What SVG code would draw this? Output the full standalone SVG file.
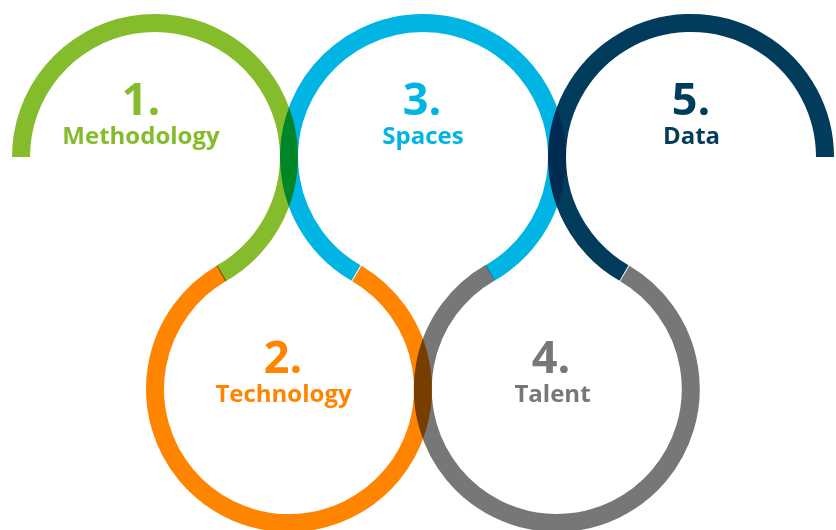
<svg xmlns="http://www.w3.org/2000/svg" width="836" height="530" viewBox="0 0 836 530">
  <style>
    .ring { fill: none; stroke-width: 18; mix-blend-mode: multiply; }
    .num { font-family: "Open Sans", "Liberation Sans", sans-serif; font-weight: 700; font-size: 45px; text-anchor: middle; }
    .lbl { font-family: "Open Sans", "Liberation Sans", sans-serif; font-weight: 700; font-size: 24px; text-anchor: middle; }
    .s-green { stroke: #85bc2c; }
    .s-orange { stroke: #ff8400; }
    .s-blue { stroke: #00b4e3; }
    .s-gray { stroke: #77777a; }
    .s-navy { stroke: #023c5c; }
    .f-green { fill: #85bc2c; }
    .f-orange { fill: #ff8400; }
    .f-blue { fill: #00b4e3; }
    .f-gray { fill: #77777a; }
    .f-navy { fill: #023c5c; }
  </style>
  <rect x="0" y="0" width="836" height="530" fill="#ffffff"/>
  <g id="connectors">
    <path class="ring s-green" d="M21,157 A134,134 0 1 1 220.8,273.7"/>
    <path class="ring s-orange" d="M356.8,273.5 A134,134 0 1 1 222,273.05"/>
    <path class="ring s-blue" d="M356,273.05 A134,134 0 1 1 490,273.05"/>
    <path class="ring s-gray" d="M624.8,273.5 A134,134 0 1 1 490.3,272.6"/>
    <path class="ring s-navy" d="M624,273.05 A134,134 0 1 1 825,157"/>
  </g>
  <g id="node1">
    <text class="num f-green" x="141" y="115">1.</text>
    <text class="lbl f-green" x="141" y="144">Methodology</text>
  </g>
  <g id="node2">
    <text class="num f-orange" x="283" y="373">2.</text>
    <text class="lbl f-orange" x="283.5" y="402">Technology</text>
  </g>
  <g id="node3">
    <text class="num f-blue" x="422" y="115">3.</text>
    <text class="lbl f-blue" x="423" y="144">Spaces</text>
  </g>
  <g id="node4">
    <text class="num f-gray" x="551" y="373">4.</text>
    <text class="lbl f-gray" x="552.5" y="402">Talent</text>
  </g>
  <g id="node5">
    <text class="num f-navy" x="691" y="115">5.</text>
    <text class="lbl f-navy" x="691.5" y="144">Data</text>
  </g>
</svg>
